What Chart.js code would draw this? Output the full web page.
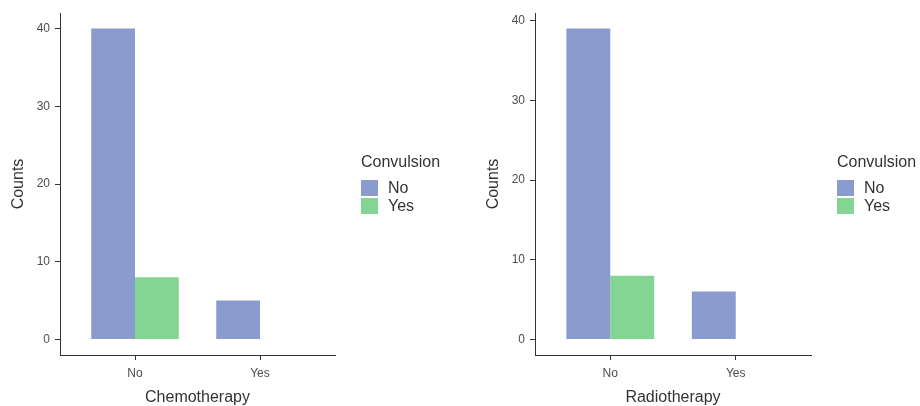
<!DOCTYPE html>
<html>
<head>
<meta charset="utf-8">
<script src="https://cdn.jsdelivr.net/npm/chart.js@4.4.0/dist/chart.umd.min.js"></script>
<style>
  body { margin: 0; background: #fff; font-family: "Liberation Sans", Arial, sans-serif; }
  #wrap { position: relative; width: 920px; height: 406px; }
  canvas { position: absolute; top: 0; }
  .legend { position: absolute; color: #333; }
  .legend .title { font-size: 16px; line-height: 18px; margin-bottom: 8px; }
  .legend .item { display: flex; align-items: center; height: 18px; font-size: 16px; }
  .legend .box { width: 17px; height: 16px; margin-right: 10px; }
</style>
</head>
<body>
<div id="wrap">
  <canvas id="chemoChart" width="460" height="406" style="left:0"></canvas>
  <canvas id="radioChart" width="460" height="406" style="left:460px"></canvas>
  <div class="legend" id="legendLeft" style="left:361px; top:153px"></div>
  <div class="legend" id="legendRight" style="left:837px; top:153px"></div>
</div>
<script>
const categories = ['No', 'Yes'];
const seriesNames = ['No', 'Yes'];
const seriesColors = ['#8a9bcd', '#84d492'];
const legendTitle = 'Convulsion';

const chemoNo = [40, 5];
const chemoYes = [8, 0];
const radioNo = [39, 6];
const radioYes = [8, 0];

const yTicks = [0, 10, 20, 30, 40];

function buildLegend(id) {
    const el = document.getElementById(id);
    let html = `<div class="title">${legendTitle}</div>`;
    seriesNames.forEach((name, i) => {
        html += `<div class="item"><span class="box" style="background:${seriesColors[i]}"></span>${name}</div>`;
    });
    el.innerHTML = html;
}

function makeChart(canvasId, noVals, yesVals, xTitle, yMin, yMax, padLeft, padRight) {
    const ctx = document.getElementById(canvasId).getContext('2d');
    const toPoints = vals => vals.map((v, i) => ({ x: i, y: v }));
    return new Chart(ctx, {
        type: 'bar',
        data: {
            datasets: [
                { label: seriesNames[0], data: toPoints(noVals), backgroundColor: seriesColors[0], borderWidth: 0 },
                { label: seriesNames[1], data: toPoints(yesVals), backgroundColor: seriesColors[1], borderWidth: 0 }
            ]
        },
        options: {
            responsive: false,
            animation: false,
            layout: { padding: { top: 13, right: padRight, left: padLeft, bottom: 0 } },
            plugins: { legend: { display: false }, tooltip: { enabled: false } },
            datasets: { bar: { categoryPercentage: 0.7, barPercentage: 1 } },
            scales: {
                x: {
                    type: 'linear',
                    offset: false,
                    min: -0.6,
                    max: 1.6,
                    afterBuildTicks: axis => { axis.ticks = categories.map((c, i) => ({ value: i })); },
                    afterFit: axis => { axis.height = 51; },
                    ticks: {
                        callback: v => categories[v],
                        color: '#4d4d4d',
                        font: { family: '"Liberation Sans", Arial', size: 12 },
                        padding: 6,
                        maxRotation: 0
                    },
                    grid: { offset: false, drawOnChartArea: false, drawTicks: true, tickLength: 5, tickColor: '#333' },
                    border: { color: '#333', width: 1 },
                    title: {
                        display: true,
                        text: xTitle,
                        color: '#333',
                        font: { family: '"Liberation Sans", Arial', size: 16, lineHeight: 1.1 },
                        padding: { top: 0, bottom: 0 }
                    }
                },
                y: {
                    min: yMin,
                    max: yMax,
                    afterBuildTicks: axis => { axis.ticks = yTicks.map(v => ({ value: v })); },
                    afterFit: axis => { axis.width = 60; },
                    ticks: {
                        color: '#4d4d4d',
                        font: { family: '"Liberation Sans", Arial', size: 12 },
                        padding: 5
                    },
                    grid: { drawOnChartArea: false, drawTicks: true, tickLength: 5, tickColor: '#333' },
                    border: { color: '#333', width: 1 },
                    title: {
                        display: true,
                        text: 'Counts',
                        color: '#333',
                        font: { family: '"Liberation Sans", Arial', size: 16 },
                        padding: { top: 9, bottom: 0 }
                    }
                }
            }
        }
    });
}

makeChart('chemoChart', chemoNo, chemoYes, 'Chemotherapy', -2, 42, 0, 125);
makeChart('radioChart', radioNo, radioYes, 'Radiotherapy', -1.95, 40.95, 15, 109);
buildLegend('legendLeft');
buildLegend('legendRight');
</script>
</body>
</html>
